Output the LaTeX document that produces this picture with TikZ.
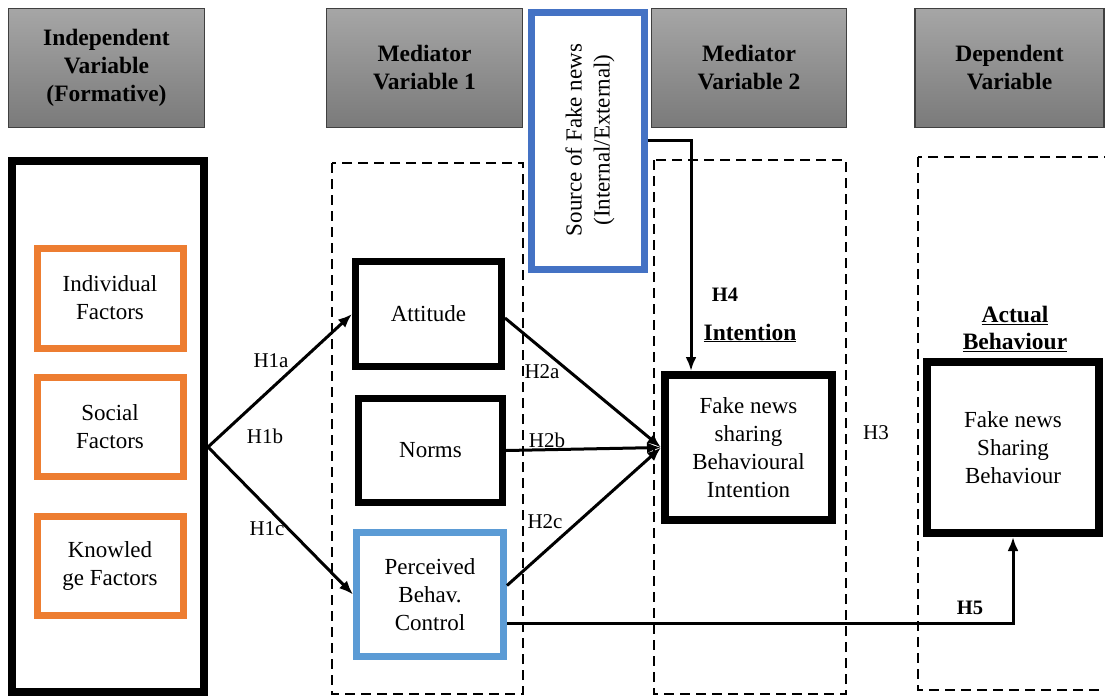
\documentclass[tikz,border=0pt]{standalone}
\usepackage{fontspec}
\setmainfont{Liberation Serif}
\usetikzlibrary{arrows.meta,calc}
\definecolor{orangeF}{HTML}{ED7D31}
\definecolor{blueS}{HTML}{4472C4}
\definecolor{blueP}{HTML}{5B9BD5}
\definecolor{hdrtop}{HTML}{A6A6A6}
\definecolor{hdrbot}{HTML}{7A7A7A}
\definecolor{hdrline}{HTML}{404040}
\tikzset{
  txt/.style={font=\fontsize{23}{28}\selectfont, align=center, inner sep=0pt},
  hdr/.style={txt, font=\fontsize{23.5}{28}\selectfont\bfseries, draw=hdrline, line width=1.2pt,
    top color=hdrtop, bottom color=hdrbot, minimum height=119pt},
  thickbox/.style={txt, draw=black, line width=8pt},
  factor/.style={txt, draw=orangeF, line width=7pt, minimum width=146pt},
  medbox/.style={txt, draw=black, line width=7pt},
  dashbox/.style={draw=black, line width=2.5pt, dash pattern=on 10pt off 6pt},
  conn/.style={draw=black, line width=3pt, -{Latex[length=14pt,width=11pt]}},
  hlab/.style={font=\fontsize{21}{24}\selectfont, inner sep=0pt},
  hlabb/.style={font=\fontsize{20.5}{24}\selectfont\bfseries, inner sep=0pt},
  ttl/.style={font=\fontsize{23.5}{27}\selectfont\bfseries, align=center, inner sep=0pt}
}
\begin{document}
\begin{tikzpicture}[x=1pt,y=-1pt]
\useasboundingbox (0,0) rectangle (1105,696);
% headers
\node[hdr, minimum width=196pt] (h1) at (106.5,68) {Independent\\Variable\\(Formative)};
\node[hdr, minimum width=196pt] (h2) at (424.5,68) {Mediator\\Variable 1};
\node[hdr, minimum width=195pt] (h3) at (749,68) {Mediator\\Variable 2};
\node[hdr, minimum width=189pt] (h4) at (1009.5,68) {Dependent\\Variable};
% dashed column boxes
\draw[dashbox] (332,163) rectangle (523,694);
\draw[dashbox] (654,160) rectangle (846,694);
\draw[dashbox] (918,157) rectangle (1115,690);
% source box
\node[txt, draw=blueS, line width=7pt, minimum width=113pt, minimum height=257pt, fill=white] (src) at (587.5,140.5) {};
\node[txt, rotate=90] (srctxt) at (590,140) {Source of Fake news\\(Internal/External)};
% independent
\node[thickbox, minimum width=192pt, minimum height=531pt] (big) at (108,426.5) {};
\node[factor, minimum height=100pt] (indiv) at (110,298) {Individual\\Factors};
\node[factor, minimum height=99pt] (social) at (110,426.5) {Social\\Factors};
\node[factor, minimum height=99pt] (know) at (110,565.5) {Knowled\\ge Factors};
% mediator 1
\node[medbox, minimum width=146pt, minimum height=105pt] (att) at (428.5,314) {Attitude};
\node[medbox, minimum width=144pt, minimum height=104pt] (norms) at (430.5,450.5) {Norms};
\node[txt, draw=blueP, line width=7pt, minimum width=147pt, minimum height=124pt] (pbc) at (430,594.5) {Perceived\\Behav.\\Control};
% mediator 2
\node[thickbox, minimum width=167pt, minimum height=145pt] (int) at (748.5,447.5) {Fake news\\sharing\\Behavioural\\Intention};
\node[ttl] (intttl) at (750,333) {\underline{Intention}};
% dependent
\node[thickbox, minimum width=172pt, minimum height=171pt] (act) at (1013,447.5) {Fake news\\Sharing\\Behaviour};
\node[ttl] (actttl) at (1015,328.5) {\underline{Actual}\\\underline{Behaviour}};
% connectors
\coordinate (o) at (208,447);
\draw[conn] (o) -- (att.west);
\draw[conn] (o) -- (pbc.west);
\draw[conn] ([yshift=-4pt]att.east) -- (int.west);
\draw[conn] (norms.east) -- (int.west);
\draw[conn] ([yshift=9pt]pbc.east) -- (int.west);
\draw[conn] (src.east) -| ([xshift=30pt]int.north west);
\draw[conn] ([yshift=-28.5pt]pbc.east) -| (act.south);
% labels
\node[hlab] (l1a) at (271,361) {H1a};
\node[hlab] (l1b) at (265,436) {H1b};
\node[hlab] (l1c) at (267,529) {H1c};
\node[hlab] (l2a) at (542,372) {H2a};
\node[hlab] (l2b) at (547,440) {H2b};
\node[hlab] (l2c) at (545,522) {H2c};
\node[hlab] (l3) at (876,433) {H3};
\node[hlabb] (l4) at (725,295) {H4};
\node[hlabb] (l5) at (970,608) {H5};
\end{tikzpicture}
\end{document}
